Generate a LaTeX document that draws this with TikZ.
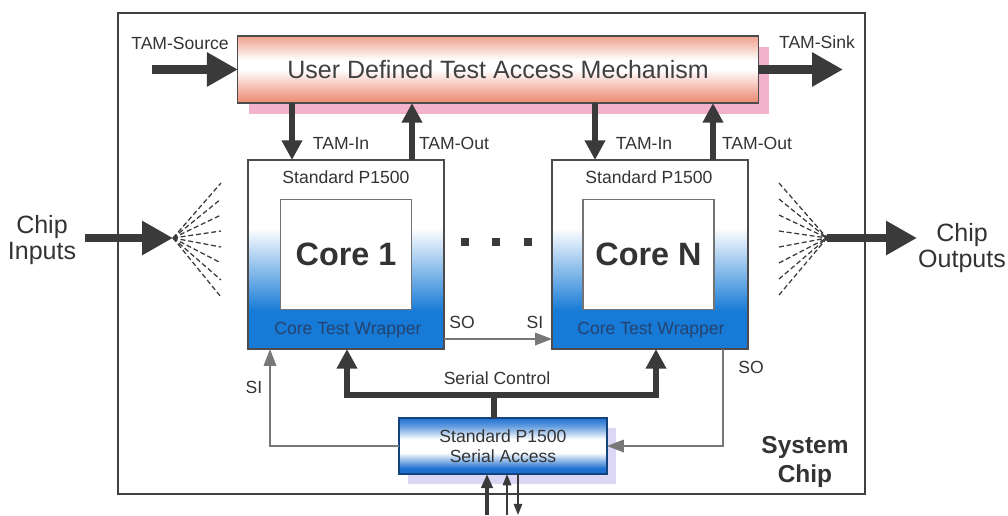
\documentclass[tikz,border=0pt]{standalone}
\usepackage{fontspec}
\setmainfont{Liberation Sans}
\usetikzlibrary{arrows.meta,backgrounds}

\definecolor{arrowgray}{RGB}{58,58,58}
\definecolor{linegray}{RGB}{120,120,120}
\definecolor{tamred}{RGB}{236,138,115}
\definecolor{tampink}{RGB}{242,178,204}
\definecolor{wrapblue}{RGB}{22,122,214}
\definecolor{sablue}{RGB}{30,112,208}
\definecolor{salilac}{RGB}{220,215,244}
\definecolor{wraptext}{RGB}{38,66,110}
\colorlet{tammid}{tamred!80!white}
\colorlet{tamlight}{tamred!55!white}
\colorlet{samid}{sablue!70!white}

\pgfdeclareverticalshading{tamshade}{100bp}{color(0bp)=(tamred); color(25bp)=(tamred); color(31bp)=(tammid); color(50bp)=(white); color(57bp)=(white); color(69bp)=(tamlight); color(75bp)=(tammid); color(100bp)=(tammid)}
\pgfdeclareverticalshading{wrapshade}{100bp}{color(0bp)=(wrapblue); color(25bp)=(wrapblue); color(35bp)=(wrapblue); color(57bp)=(white); color(100bp)=(white)}
\pgfdeclareverticalshading{sashade}{100bp}{color(0bp)=(sablue); color(25bp)=(sablue); color(30bp)=(sablue); color(44bp)=(white); color(56bp)=(white); color(68bp)=(samid); color(75bp)=(sablue); color(100bp)=(sablue)}

\begin{document}
\begin{tikzpicture}[x=0.025cm, y=-0.025cm,
    lbl/.style={text=black!80, font=\fontsize{12.5}{14.2}\selectfont},
    big/.style={text=black!80, font=\fontsize{17.8}{19}\selectfont, align=center},
    bigarrow/.style={draw=arrowgray, line width=6pt, -{Triangle[length=22pt,width=23pt]}},
    busarrow/.style={draw=arrowgray, line width=3.6pt, -{Triangle[length=14pt,width=14pt]}},
    pinthick/.style={draw=arrowgray, line width=2.8pt, -{Triangle[length=10pt,width=8pt]}},
    pinarrow/.style={draw=arrowgray, line width=1.2pt, -{Triangle[length=8pt,width=6pt]}},
    thinarrow/.style={draw=linegray, line width=0.9pt, -{Triangle[length=12pt,width=9pt]}},
    fanline/.style={draw=arrowgray, line width=0.9pt, dash pattern=on 3.5pt off 2pt},
    wrapper/.style={draw=black!70, line width=0.8pt, shade, shading=wrapshade, minimum width=4.9cm, minimum height=4.725cm, inner sep=0pt, outer sep=0pt},
    core/.style={draw=black!55, line width=0.8pt, fill=white, minimum width=3.275cm, minimum height=2.75cm, inner sep=0pt, outer sep=0pt, text=black!80, font=\fontsize{23}{26}\selectfont\bfseries}
]
\useasboundingbox (0,0) rectangle (1008,515);

% System chip
\node[draw=black!75, line width=1.4pt, minimum width=18.675cm, minimum height=12.025cm, inner sep=0pt] (chip) at (491.5,253.5) {};
\node[text=black!80, font=\fontsize{17.4}{20.6}\selectfont\bfseries, align=center] (sysChip) at (805,462) {System\\Chip};

% Test access mechanism
\node[draw=black!70, line width=0.8pt, shade, shading=tamshade, minimum width=13cm, minimum height=1.675cm, inner sep=0pt, outer sep=0pt, text=black!75, font=\fontsize{17.8}{20}\selectfont] (tam) at (498,69.5) {User Defined Test Access Mechanism};
\coordinate (srcStart) at (152,69.5);
\coordinate (sinkEnd) at (843,69.5);
\node[lbl] (srcLbl) at (180,43) {TAM-Source};
\node[lbl] (sinkLbl) at (817,42) {TAM-Sink};
\draw[bigarrow] (srcStart) -- (tam.west);
\draw[bigarrow] (tam.east) -- (sinkEnd);

% Wrapped cores
\node[wrapper] (w1) at (346,254.5) {};
\node[core] (c1) at (w1) {Core 1};
\node[lbl] (w1top) at (346,177) {Standard P1500};
\node[lbl, text=wraptext] (w1bot) at (348,330) {Core Test Wrapper};

\node[wrapper] (wn) at (650,254.5) {};
\node[core] (cn) at (648.5,254.5) {Core N};
\node[lbl] (wntop) at (649,177) {Standard P1500};
\node[lbl, text=wraptext] (wnbot) at (651,330) {Core Test Wrapper};

\foreach \x in {465,496,528}
    \fill[arrowgray] (\x-4,238) rectangle (\x+4,246);

% TAM in / out
\draw[busarrow] (tam.south -| 292,0) -- (w1.north -| 292,0);
\draw[busarrow] (w1.north -| 412,0) -- (tam.south -| 412,0);
\draw[busarrow] (tam.south -| 595,0) -- (wn.north -| 595,0);
\draw[busarrow] (wn.north -| 713,0) -- (tam.south -| 713,0);
\node[lbl] (in1) at (341,143) {TAM-In};
\node[lbl] (out1) at (454,143) {TAM-Out};
\node[lbl] (inN) at (644,143) {TAM-In};
\node[lbl] (outN) at (757,143) {TAM-Out};

% Serial access
\node[draw=sablue!60!black, line width=0.8pt, shade, shading=sashade, minimum width=5.2cm, minimum height=1.4cm, inner sep=0pt, outer sep=0pt, align=center, lbl] (sa) at (503,446) {Standard P1500\\Serial Access};
\begin{scope}[on background layer]
    \fill[tampink] ([shift={(11,11)}]tam.north west) rectangle ([shift={(11,11)}]tam.south east);
    \fill[salilac] ([shift={(9,10)}]sa.north west) rectangle ([shift={(9,10)}]sa.south east);
\end{scope}

% Serial control
\coordinate (ctrl) at (494,395);
\draw[busarrow] (sa.north -| ctrl) -- (ctrl) -| (w1.south -| 347,0);
\draw[busarrow] (sa.north -| ctrl) -- (ctrl) -| (wn.south -| 656,0);
\node[lbl] (ctrlLbl) at (497,378) {Serial Control};

% Serial data
\draw[thinarrow] (sa.west) -| (w1.south -| 270,0);
\draw[thinarrow] (w1.east |- 0,339) -- (wn.west |- 0,339);
\draw[thinarrow] (wn.south -| 723,0) |- (sa.east);
\node[lbl] (si1) at (254,387) {SI};
\node[lbl] (so1) at (462,322) {SO};
\node[lbl] (siN) at (535,322) {SI};
\node[lbl] (soN) at (751,367) {SO};

% Pins
\coordinate (pinA) at (487,515);
\coordinate (pinB) at (507,515);
\coordinate (pinC) at (518,515);
\draw[pinthick] (pinA) -- (sa.south -| pinA);
\draw[pinarrow] (pinB) -- (sa.south -| pinB);
\draw[pinarrow] (sa.south -| pinC) -- (pinC);

% Chip inputs
\node[big] (chipIn) at (42,240) {Chip\\Inputs};
\coordinate (inStart) at (85,238);
\coordinate (fanL) at (173,238);
\draw[bigarrow] (inStart) -- (fanL);
\foreach \y in {183,199,215,231,247,263,280,297}
    \draw[fanline] (fanL) -- (221,\y);

% Chip outputs
\node[big] (chipOut) at (962,248) {Chip\\Outputs};
\coordinate (fanR) at (827,238);
\coordinate (outEnd) at (917,238);
\foreach \y in {183,199,215,231,247,263,279,295}
    \draw[fanline] (779,\y) -- (fanR);
\fill[arrowgray] (fanR) circle (2pt);
\draw[bigarrow] (fanR) -- (outEnd);
\end{tikzpicture}
\end{document}
